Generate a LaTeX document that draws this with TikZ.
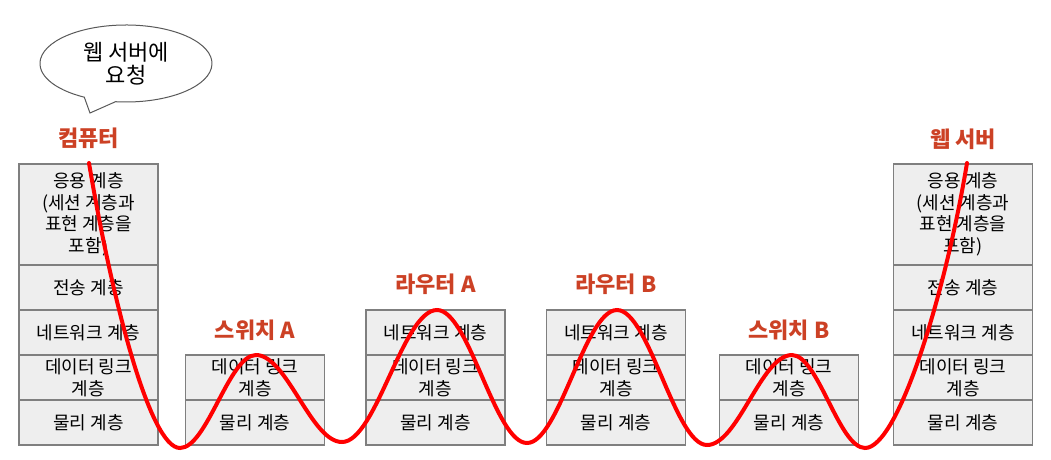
\documentclass[tikz,border=0pt]{standalone}
\usepackage{fontspec}
\setmainfont{Noto Sans CJK KR}
\definecolor{labelred}{HTML}{CC4125}
\definecolor{boxfill}{HTML}{EEEEEE}
\definecolor{boxline}{HTML}{7F7F7F}
\definecolor{bubbleline}{HTML}{595959}
\tikzset{
  layer/.style={draw=boxline, fill=boxfill, line width=1.6pt, minimum width=139pt,
    minimum height=45pt, inner sep=0pt, align=center, font=\fontsize{18}{21.5}\selectfont},
  device/.style={text=labelred, font=\fontsize{22}{26}\selectfont\bfseries},
  bubble/.style={draw=bubbleline, line width=1pt, fill=white},
  packet/.style={draw=red, line width=4pt, line cap=round},
}

\begin{document}
\begin{tikzpicture}[x=1pt,y=-1pt]
\useasboundingbox (0,0) rectangle (1051,459);
% speech bubble
\draw[bubble] (84.3,97.2) -- (90,113) -- (115.5,101.7)
  arc[start angle=97, end angle=-241, x radius=86, y radius=38.5] -- cycle;
\node[align=center, font=\fontsize{22}{23.5}\selectfont] (request) at (126,63.5) {웹 서버에\\요청};
% device names
\node[device] (pcname) at (88.5,138) {컴퓨터};
\node[device] (swaname) at (255,330) {스위치 A};
\node[device] (rtaname) at (435.5,284) {라우터 A};
\node[device] (rtbname) at (616,284) {라우터 B};
\node[device] (swbname) at (789,330) {스위치 B};
\node[device] (webname) at (963,139) {웹 서버};
% computer
\node[layer, minimum height=101pt] (pcapp) at (88.5,214.5) {응용 계층\\(세션 계층과\\표현 계층을\\포함)};
\node[layer] (pctrans) at (88.5,287.5) {전송 계층};
\node[layer] (pcnet) at (88.5,332.5) {네트워크 계층};
\node[layer] (pclink) at (88.5,377.5) {데이터 링크\\계층};
\node[layer] (pcphys) at (88.5,422.5) {물리 계층};
% switch A
\node[layer] (swalink) at (255,377.5) {데이터 링크\\계층};
\node[layer] (swaphys) at (255,422.5) {물리 계층};
% router A
\node[layer] (rtanet) at (435.5,332.5) {네트워크 계층};
\node[layer] (rtalink) at (435.5,377.5) {데이터 링크\\계층};
\node[layer] (rtaphys) at (435.5,422.5) {물리 계층};
% router B
\node[layer] (rtbnet) at (616,332.5) {네트워크 계층};
\node[layer] (rtblink) at (616,377.5) {데이터 링크\\계층};
\node[layer] (rtbphys) at (616,422.5) {물리 계층};
% switch B
\node[layer] (swblink) at (789,377.5) {데이터 링크\\계층};
\node[layer] (swbphys) at (789,422.5) {물리 계층};
% web server
\node[layer, minimum height=101pt] (webapp) at (963,214.5) {응용 계층\\(세션 계층과\\표현 계층을\\포함)};
\node[layer] (webtrans) at (963,287.5) {전송 계층};
\node[layer] (webnet) at (963,332.5) {네트워크 계층};
\node[layer] (weblink) at (963,377.5) {데이터 링크\\계층};
\node[layer] (webphys) at (963,422.5) {물리 계층};
% path of the request
\coordinate (start) at (89,163);
\coordinate (low1) at (180,448);
\coordinate (top1) at (256,355);
\coordinate (low2) at (342,442);
\coordinate (top2) at (437,310);
\coordinate (low3) at (527,443);
\coordinate (top3) at (617,310);
\coordinate (low4) at (707,445);
\coordinate (top4) at (792,355);
\coordinate (low5) at (865,448);
\coordinate (finish) at (967,163);
\draw[packet] (start) .. controls (112,300) and (150,448) .. (low1)
  .. controls (207,448) and (229,355) .. (top1)
  .. controls (287,355) and (311,442) .. (low2)
  .. controls (376,442) and (403,310) .. (top2)
  .. controls (469,310) and (495,443) .. (low3)
  .. controls (559,443) and (585,310) .. (top3)
  .. controls (649,310) and (675,445) .. (low4)
  .. controls (738,445) and (761,355) .. (top4)
  .. controls (818,355) and (839,448) .. (low5)
  .. controls (898,448) and (945,295) .. (finish);
\end{tikzpicture}
\end{document}
